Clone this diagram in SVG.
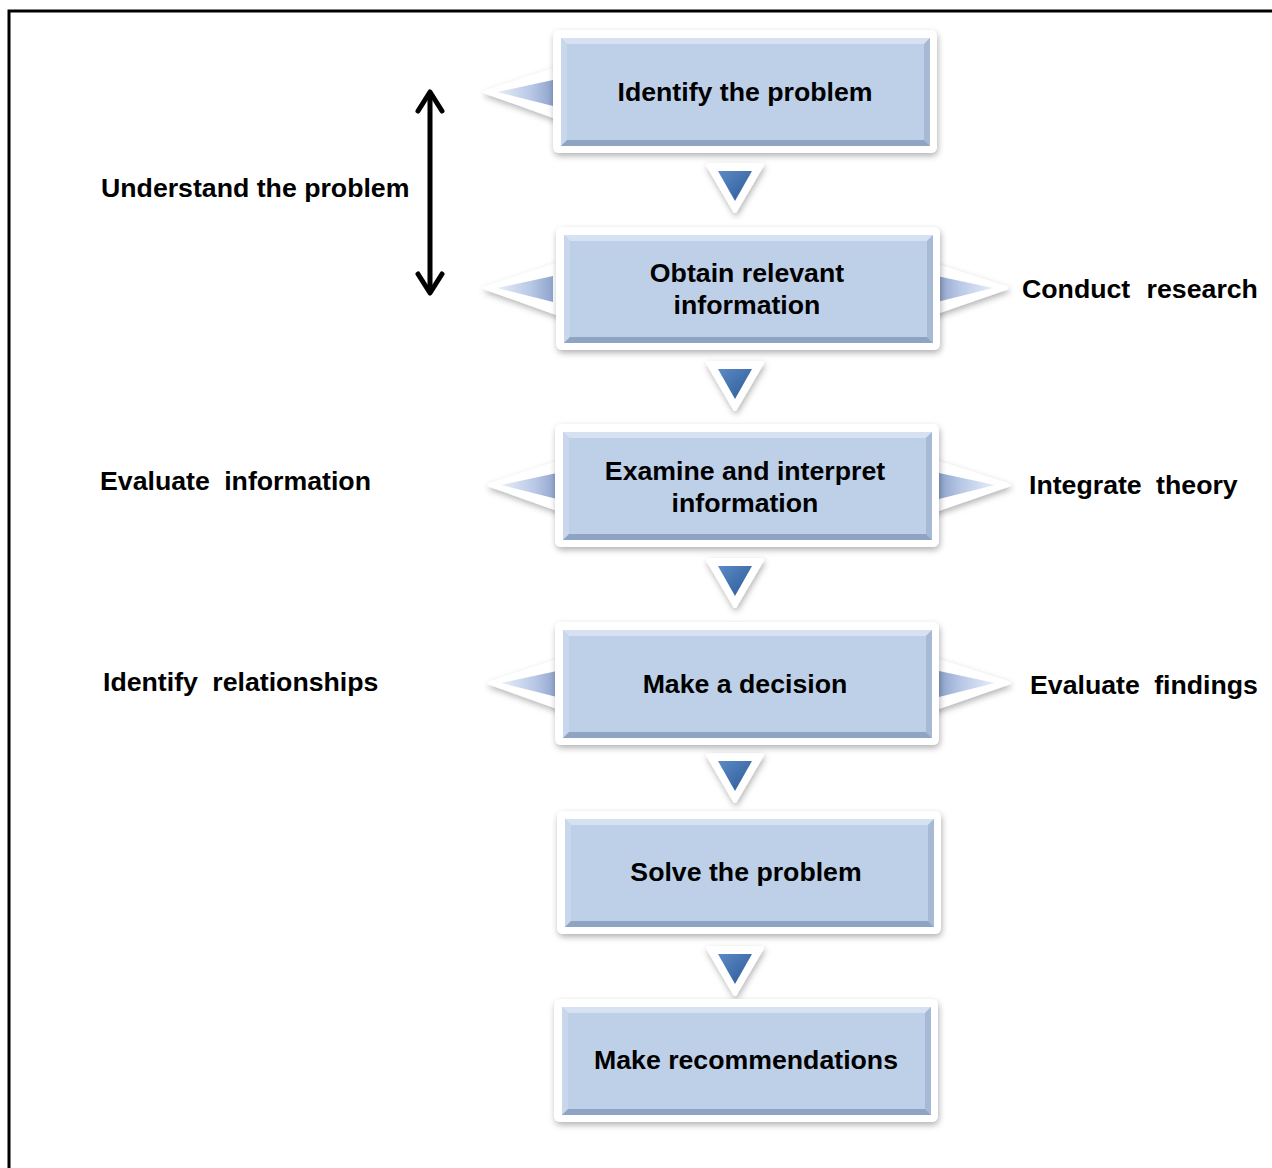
<svg xmlns="http://www.w3.org/2000/svg" width="1272" height="1168" viewBox="0 0 1272 1168">
<defs>
<filter id="sh" x="-15%" y="-15%" width="135%" height="140%">
<feDropShadow dx="1" dy="3" stdDeviation="3" flood-color="#000" flood-opacity="0.3"/>
</filter>
<linearGradient id="callL" x1="0" y1="0" x2="1" y2="0">
<stop offset="0" stop-color="#e8eef8"/>
<stop offset="0.6" stop-color="#b8c8e6"/>
<stop offset="1" stop-color="#8fa3cc"/>
</linearGradient>
<linearGradient id="callR" x1="1" y1="0" x2="0" y2="0">
<stop offset="0" stop-color="#e8eef8"/>
<stop offset="0.6" stop-color="#b8c8e6"/>
<stop offset="1" stop-color="#8fa3cc"/>
</linearGradient>
<linearGradient id="down" x1="0" y1="0" x2="1" y2="1">
<stop offset="0" stop-color="#5b8ac6"/>
<stop offset="1" stop-color="#2c5a98"/>
</linearGradient>
<g id="box">
<rect x="0" y="0" width="384" height="123" rx="6" fill="#fff" filter="url(#sh)"/>
<rect x="8" y="8" width="369" height="108" fill="#bdd0e8"/>
<polygon points="8,8 377,8 371,14 14,14" fill="#d6e2f2"/>
<polygon points="8,8 14,14 14,110 8,116" fill="#c8d7ec"/>
<polygon points="377,8 377,116 371,110 371,14" fill="#a6bad6"/>
<polygon points="8,116 14,110 371,110 377,116" fill="#8ea4c2"/>
</g>
<g id="calloutL">
<polygon points="73,-24 0,0 73,26" fill="#fff" stroke="#fff" stroke-width="3" stroke-linejoin="round" filter="url(#sh)"/>
<polygon points="68,-12 12,0 68,14" fill="url(#callL)"/>
</g>
<g id="calloutR">
<polygon points="0,-24 75,0 0,26" fill="#fff" stroke="#fff" stroke-width="3" stroke-linejoin="round" filter="url(#sh)"/>
<polygon points="5,-12 61,0 5,14" fill="url(#callR)"/>
</g>
<g id="dn">
<polygon points="-27,0 27,0 0,46" fill="#fff" stroke="#fff" stroke-width="4" stroke-linejoin="round" filter="url(#sh)"/>
<polygon points="-17,6 17,6 0,36" fill="url(#down)"/>
</g>
</defs>
<style>
text{font-family:"Liberation Sans",Arial,sans-serif;font-weight:bold;font-size:26.7px;fill:#000}
.c{text-anchor:middle}
.ws{word-spacing:7px}
</style>
<rect width="1272" height="1168" fill="#fff"/>
<path d="M9,1172 V11 H1276" fill="none" stroke="#000" stroke-width="3"/>

<g id="connectors">
<use href="#dn" x="735" y="165"/>
<use href="#dn" x="735" y="363"/>
<use href="#dn" x="735" y="560"/>
<use href="#dn" x="735" y="755"/>
<use href="#dn" x="735" y="948"/>
<g id="double-arrow" fill="none" stroke="#000" stroke-width="5" stroke-linecap="round" stroke-linejoin="round">
<line x1="430" y1="93" x2="430" y2="291"/>
<polyline points="418,111 430,92 442,111"/>
<polyline points="418,274 430,293 442,274"/>
</g>
</g>

<g id="n1">
<use href="#calloutL" x="485" y="92"/>
<use href="#box" x="553" y="30"/>
<text class="c" x="745" y="101">Identify the problem</text>
</g>
<g id="n2">
<use href="#calloutL" x="485" y="288"/>
<use href="#calloutR" x="932" y="288"/>
<use href="#box" x="556" y="227"/>
<text class="c" x="747" y="282">Obtain relevant</text>
<text class="c" x="747" y="314">information</text>
</g>
<g id="n3">
<use href="#calloutL" x="489" y="485"/>
<use href="#calloutR" x="934" y="485"/>
<use href="#box" x="555" y="424"/>
<text class="c" x="745" y="480">Examine and interpret</text>
<text class="c" x="745" y="512">information</text>
</g>
<g id="n4">
<use href="#calloutL" x="489" y="683"/>
<use href="#calloutR" x="934" y="683"/>
<use href="#box" x="555" y="622"/>
<text class="c" x="745" y="693">Make a decision</text>
</g>
<g id="n5">
<use href="#box" x="557" y="811"/>
<text class="c" x="746" y="881">Solve the problem</text>
</g>
<g id="n6">
<use href="#box" x="554" y="999"/>
<text class="c" x="746" y="1069">Make recommendations</text>
</g>

<g id="labels">
<text x="101" y="197">Understand the problem</text>
<text class="ws" x="1022" y="298" style="word-spacing:9px">Conduct research</text>
<text class="ws" x="100" y="490">Evaluate information</text>
<text class="ws" x="1029" y="494">Integrate theory</text>
<text class="ws" x="103" y="691">Identify relationships</text>
<text class="ws" x="1030" y="694">Evaluate findings</text>
</g>
</svg>
